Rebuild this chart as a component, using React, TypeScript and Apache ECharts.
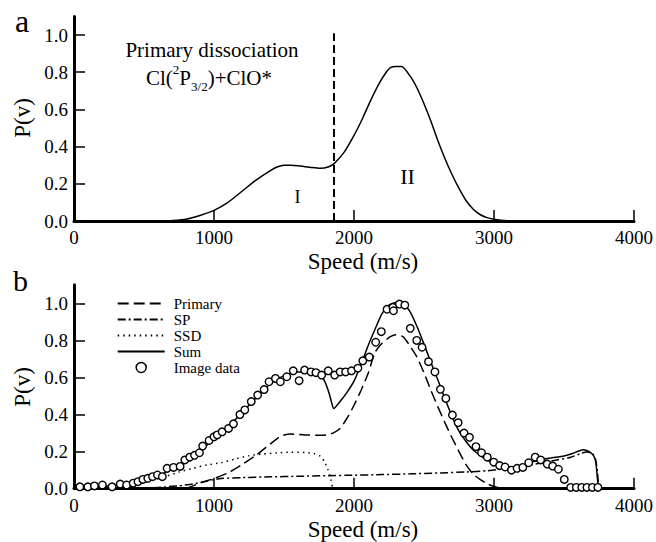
import React, { useEffect, useRef } from "react";
import * as echarts from "echarts";

const FONT = "Liberation Serif";

const xTicks = [0, 1000, 2000, 3000, 4000];
const yTicks = [0, 0.2, 0.4, 0.6, 0.8, 1.0];

// Panel a: primary dissociation speed distribution
const primaryA: [number, number][] = [
  [650, 0], [700, 0.002], [800, 0.01], [900, 0.03], [1000, 0.057], [1100, 0.1], [1200, 0.16],
  [1300, 0.22], [1400, 0.27], [1450, 0.29], [1500, 0.3], [1550, 0.3], [1600, 0.297],
  [1700, 0.287], [1760, 0.283], [1820, 0.292], [1860, 0.31], [1930, 0.37], [2000, 0.46],
  [2060, 0.55], [2120, 0.65], [2180, 0.74], [2230, 0.8], [2260, 0.825], [2300, 0.83],
  [2340, 0.83], [2400, 0.78], [2450, 0.715], [2500, 0.63], [2550, 0.535], [2600, 0.43],
  [2650, 0.335], [2700, 0.25], [2750, 0.175], [2800, 0.11], [2850, 0.065], [2900, 0.035],
  [2950, 0.018], [3000, 0.009], [3050, 0.004], [3120, 0],
];
const boundaryA: [number, number][] = [[1857, 0], [1857, 1.01]];

// Panel b
const primaryB: [number, number][] = [
  [800, 0], [850, 0.015], [900, 0.03], [1000, 0.055], [1100, 0.085], [1200, 0.13], [1300, 0.18],
  [1400, 0.24], [1480, 0.285], [1550, 0.295], [1650, 0.29], [1750, 0.288], [1800, 0.29],
  [1850, 0.3], [1900, 0.325], [1950, 0.38], [2000, 0.45], [2050, 0.53], [2100, 0.62],
  [2150, 0.735], [2200, 0.785], [2260, 0.82], [2300, 0.83], [2350, 0.82], [2400, 0.77],
  [2450, 0.71], [2500, 0.625], [2550, 0.53], [2600, 0.44], [2650, 0.355], [2700, 0.275],
  [2750, 0.2], [2800, 0.13], [2850, 0.08], [2900, 0.05], [2950, 0.027], [3000, 0.012],
  [3050, 0.003], [3100, 0],
];
const spB: [number, number][] = [
  [450, 0], [550, 0.004], [650, 0.01], [750, 0.016], [850, 0.025], [950, 0.042], [1050, 0.055],
  [1200, 0.06], [1400, 0.064], [1600, 0.067], [1800, 0.07], [2000, 0.073], [2200, 0.076],
  [2400, 0.08], [2600, 0.085], [2800, 0.09], [2950, 0.097], [3050, 0.105], [3150, 0.115],
  [3250, 0.128], [3350, 0.14], [3450, 0.155], [3550, 0.17], [3620, 0.19], [3660, 0.198],
  [3700, 0.192], [3725, 0.16], [3740, 0.08], [3748, 0],
];
const ssdB: [number, number][] = [
  [250, 0], [350, 0.01], [450, 0.025], [550, 0.045], [650, 0.065], [750, 0.09], [850, 0.11],
  [950, 0.128], [1050, 0.14], [1150, 0.16], [1250, 0.178], [1350, 0.187], [1450, 0.193],
  [1550, 0.197], [1650, 0.195], [1720, 0.188], [1760, 0.175], [1790, 0.145], [1815, 0.1],
  [1835, 0.05], [1848, 0],
];
const sumB: [number, number][] = [
  [0, 0.01], [200, 0.012], [300, 0.018], [400, 0.028], [500, 0.045], [600, 0.07], [700, 0.105],
  [800, 0.15], [900, 0.2], [1000, 0.27], [1100, 0.335], [1200, 0.41], [1300, 0.49],
  [1400, 0.565], [1500, 0.61], [1600, 0.63], [1700, 0.628], [1760, 0.615], [1790, 0.58],
  [1820, 0.52], [1840, 0.465], [1855, 0.432], [1900, 0.47], [1950, 0.52], [2000, 0.58],
  [2050, 0.67], [2100, 0.77], [2150, 0.86], [2200, 0.945], [2250, 0.99], [2300, 1.005],
  [2350, 1.0], [2400, 0.955], [2450, 0.875], [2500, 0.78], [2550, 0.68], [2600, 0.585],
  [2650, 0.485], [2700, 0.39], [2750, 0.31], [2800, 0.255], [2850, 0.21], [2900, 0.18],
  [2950, 0.155], [3000, 0.135], [3050, 0.12], [3100, 0.11], [3200, 0.12], [3300, 0.15],
  [3400, 0.165], [3500, 0.177], [3560, 0.19], [3610, 0.205], [3640, 0.21], [3680, 0.2],
  [3710, 0.18], [3728, 0.14], [3738, 0.06], [3748, 0],
];
const imageB: [number, number][] = [
  [42, 0.01], [99, 0.01], [146, 0.015], [203, 0.02], [272, 0.01], [330, 0.025], [376, 0.02],
  [423, 0.03], [457, 0.038], [492, 0.05], [527, 0.056], [561, 0.065], [596, 0.074], [631, 0.065],
  [665, 0.11], [711, 0.115], [758, 0.12], [792, 0.155], [827, 0.17], [861, 0.18], [896, 0.194],
  [919, 0.23], [965, 0.26], [1000, 0.28], [1023, 0.29], [1058, 0.307], [1104, 0.325],
  [1139, 0.35], [1185, 0.4], [1220, 0.425], [1266, 0.47], [1312, 0.505], [1358, 0.535],
  [1393, 0.577], [1439, 0.595], [1474, 0.577], [1520, 0.604], [1566, 0.636], [1608, 0.583],
  [1647, 0.64], [1693, 0.63], [1728, 0.626], [1769, 0.613], [1816, 0.636], [1862, 0.613],
  [1901, 0.63], [1940, 0.63], [1982, 0.636], [2028, 0.65], [2063, 0.69], [2109, 0.71],
  [2155, 0.79], [2195, 0.847], [2236, 0.968], [2278, 0.978], [2282, 0.96], [2324, 0.996],
  [2363, 0.99], [2402, 0.865], [2448, 0.8], [2486, 0.763], [2532, 0.685], [2578, 0.63],
  [2617, 0.536], [2656, 0.487], [2703, 0.397], [2744, 0.356], [2786, 0.3], [2825, 0.277],
  [2871, 0.227], [2911, 0.194], [2952, 0.17], [2998, 0.143], [3040, 0.125], [3079, 0.117],
  [3125, 0.1], [3165, 0.11], [3206, 0.115], [3248, 0.14], [3294, 0.17], [3333, 0.155],
  [3380, 0.133], [3419, 0.122], [3460, 0.105], [3502, 0.05], [3548, 0.007], [3588, 0.007],
  [3627, 0.007], [3664, 0.007], [3703, 0.007], [3742, 0.007],
];

const legendNames = ["Primary", "SP", "SSD", "Sum", "Image data"];

function makeX(i: number) {
  return {
    type: "value",
    gridIndex: i,
    min: 0,
    max: 4000,
    interval: 1000,
    axisLine: { show: true, onZero: false, lineStyle: { color: "#000", width: 3 } },
    axisTick: { show: true, inside: true, length: 11, lineStyle: { color: "#000", width: 1.5 } },
    axisLabel: {
      color: "#000", fontSize: 19, fontFamily: FONT, margin: 7, customValues: xTicks,
      formatter: (v: number) => String(v),
    },
    splitLine: { show: false },
  };
}
function makeY(i: number) {
  return {
    type: "value",
    gridIndex: i,
    min: 0,
    max: 1.1,
    axisLine: { show: true, onZero: false, lineStyle: { color: "#000", width: 3 } },
    axisTick: { show: true, inside: true, length: 11, customValues: yTicks, lineStyle: { color: "#000", width: 1.5 } },
    axisLabel: {
      color: "#000", fontSize: 19, fontFamily: FONT, margin: 6, customValues: yTicks,
      formatter: (v: number) => v.toFixed(1),
    },
    splitLine: { show: false },
  };
}

function lineSeries(name: string | undefined, data: [number, number][], idx: number, type: any, width = 1.5) {
  return {
    type: "line",
    name,
    xAxisIndex: idx,
    yAxisIndex: idx,
    data,
    symbol: "none",
    smooth: 0.2,
    silent: true,
    lineStyle: { color: "#000", width, type },
    itemStyle: { color: "#000" },
    z: 3,
  };
}

export default function App() {
  const ref = useRef<HTMLDivElement>(null);
  useEffect(() => {
    if (!ref.current) return;
    const chart = echarts.init(ref.current, undefined, { renderer: "svg" });
    const txt = (x: number, y: number, text: string, size: number, extra: any = {}) => ({
      type: "text",
      x,
      y,
      silent: true,
      rotation: extra.rotation || 0,
      style: {
        text,
        fill: "#000",
        fontSize: size,
        fontFamily: FONT,
        lineHeight: size,
        align: extra.align || "center",
        verticalAlign: "middle",
      },
    });
    const option: any = {
      animation: false,
      backgroundColor: "#fff",
      textStyle: { fontFamily: FONT },
      grid: [
        { left: 74, right: 5, top: 16.4, height: 204.6 },
        { left: 74, right: 5, top: 284.8, height: 203.9 },
      ],
      xAxis: [makeX(0), makeX(1)],
      yAxis: [makeY(0), makeY(1)],
      legend: {
        show: true,
        orient: "vertical",
        left: 116.7,
        top: 296,
        padding: 0,
        itemWidth: 47,
        itemHeight: 10,
        itemGap: 1,
        selectedMode: false,
        textStyle: { color: "#000", fontSize: 15, fontFamily: FONT, lineHeight: 15, padding: [0, 0, 0, 4] },
        data: legendNames.map((n) =>
          n === "Image data"
            ? { name: n, itemStyle: { color: "#fff", borderColor: "#000", borderWidth: 1.5, opacity: 1 } }
            : { name: n, itemStyle: { opacity: 0 } }
        ),
      },
      graphic: [
        txt(15, 21, "a", 32, { align: "left" }),
        txt(13, 280, "b", 30, { align: "left" }),
        txt(22, 118, "P(v)", 23, { rotation: Math.PI / 2 }),
        txt(22, 387, "P(v)", 23, { rotation: Math.PI / 2 }),
        txt(363, 261.5, "Speed (m/s)", 23),
        txt(363, 529.5, "Speed (m/s)", 23),
        txt(212, 49.5, "Primary dissociation", 21),
        {
          type: "text",
          x: 209,
          y: 77.9,
          silent: true,
          style: {
            text: "{m|Cl(}{sup|2}{m|P}{sub|3/2}{m|)+ClO*}",
            align: "center",
            verticalAlign: "middle",
            fill: "#000",
            rich: {
              m: { fontSize: 21, fontFamily: FONT, lineHeight: 30, verticalAlign: "middle", color: "#000" },
              sup: { fontSize: 13, fontFamily: FONT, lineHeight: 17, verticalAlign: "top", color: "#000" },
              sub: { fontSize: 13, fontFamily: FONT, lineHeight: 12, verticalAlign: "bottom", color: "#000" },
            },
          },
        },
        txt(297.5, 197, "I", 18),
        txt(407.5, 176, "II", 22),
      ],
      series: [
        lineSeries(undefined, primaryA, 0, "solid"),
        { ...lineSeries(undefined, boundaryA, 0, [8, 4], 2), smooth: false },
        lineSeries("Primary", primaryB, 1, [11, 5]),
        lineSeries("SP", spB, 1, [8, 3, 2, 3]),
        lineSeries("SSD", ssdB, 1, [1.5, 4]),
        lineSeries("Sum", sumB, 1, "solid"),
        {
          type: "scatter",
          name: "Image data",
          xAxisIndex: 1,
          yAxisIndex: 1,
          data: imageB,
          symbol: "circle",
          symbolSize: 7.5,
          silent: true,
          itemStyle: { color: "#fff", borderColor: "#000", borderWidth: 1.4, opacity: 1 },
          z: 4,
        },
      ],
    };
    chart.setOption(option);
    return () => chart.dispose();
  }, []);
  return (
    <div
      ref={ref}
      style={{ position: "fixed", left: 0, top: 0, width: 656, height: 542, background: "#fff" }}
    />
  );
}
